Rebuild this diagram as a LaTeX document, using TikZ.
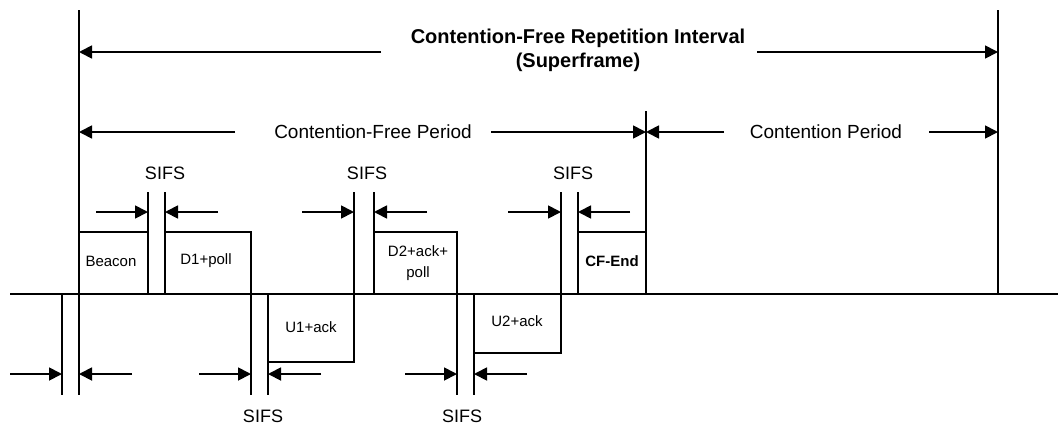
\documentclass[tikz,border=0pt]{standalone}
\usepackage{fontspec}
\setmainfont{Liberation Sans}
\usetikzlibrary{arrows.meta}
\tikzset{
  ln/.style={line width=1.8pt, line join=miter},
  arr/.style={line width=1.8pt, -{Triangle[length=13pt,width=13pt]}},
  big/.style={font=\fontsize{19}{23}\selectfont, inner sep=0pt},
  bigb/.style={font=\fontsize{20}{24}\selectfont\bfseries, inner sep=0pt, align=center},
  sifs/.style={font=\fontsize{18}{21}\selectfont, inner sep=0pt},
  boxlbl/.style={font=\fontsize{15}{22}\selectfont, inner sep=0pt, align=center},
}
\begin{document}
\begin{tikzpicture}[x=1pt,y=-1pt]
\useasboundingbox (0,0) rectangle (1058,426);
% named coordinates
\coordinate (hl) at (10,294); \coordinate (hr) at (1058,294);
\coordinate (L0t) at (79,10); \coordinate (L0b) at (79,395);
\coordinate (R0t) at (998,10); \coordinate (R0b) at (998,294);
\coordinate (CFt) at (646,111); \coordinate (CFb) at (646,294);
% timeline
\draw[ln] (hl) -- (hr);
\draw[ln] (L0t) -- (L0b);
\draw[ln] (R0t) -- (R0b);
\draw[ln] (CFt) -- (CFb);
\draw[ln] (62,294) -- (62,395);
% Beacon
\draw[ln] (79,232) -- (148,232);
\draw[ln] (148,192) -- (148,294);
% D1+poll
\draw[ln] (165,192) -- (165,294);
\draw[ln] (165,232) -- (251,232) -- (251,395);
% U1+ack
\draw[ln] (268,294) -- (268,395);
\draw[ln] (268,362) -- (354,362) -- (354,192);
% D2+ack+poll
\draw[ln] (374,192) -- (374,294);
\draw[ln] (374,232) -- (457,232) -- (457,395);
% U2+ack
\draw[ln] (474,294) -- (474,395);
\draw[ln] (474,353) -- (561,353) -- (561,192);
% CF-End
\draw[ln] (578,192) -- (578,294);
\draw[ln] (578,232) -- (646,232);
% box labels
\node[boxlbl] (beacon) at (111,261) {Beacon};
\node[boxlbl] (d1) at (206,261) {D1+poll};
\node[boxlbl] (u1) at (311,327) {U1+ack};
\node[boxlbl, font=\fontsize{15}{21}\selectfont] (d2) at (418,263) {D2+ack+\\poll};
\node[boxlbl] (u2) at (517,321) {U2+ack};
\node[boxlbl, font=\fontsize{15}{22}\selectfont\bfseries] (cfend) at (612,261) {CF-End};
% top labels
\node[bigb] (title) at (578,50) {Contention-Free Repetition Interval\\(Superframe)};
\node[big] (cfp) at (373,132) {Contention-Free Period};
\node[big] (cp) at (826,132) {Contention Period};
% top arrows
\draw[arr] (381,52) -- (79,52);
\draw[arr] (757,52) -- (998,52);
\draw[arr] (235,132) -- (79,132);
\draw[arr] (491,132) -- (646,132);
\draw[arr] (724,132) -- (646,132);
\draw[arr] (929,132) -- (998,132);
% upper SIFS
\draw[arr] (96,212) -- (148,212);
\draw[arr] (218,212) -- (165,212);
\draw[arr] (302,212) -- (354,212);
\draw[arr] (427,212) -- (374,212);
\draw[arr] (508,212) -- (561,212);
\draw[arr] (630,212) -- (578,212);
\node[sifs] (s1) at (165,173) {SIFS};
\node[sifs] (s2) at (367,173) {SIFS};
\node[sifs] (s3) at (573,173) {SIFS};
% lower SIFS
\draw[arr] (10,374) -- (62,374);
\draw[arr] (132,374) -- (79,374);
\draw[arr] (199,374) -- (251,374);
\draw[arr] (321,374) -- (268,374);
\draw[arr] (405,374) -- (457,374);
\draw[arr] (527,374) -- (474,374);
\node[sifs] (s4) at (263,416) {SIFS};
\node[sifs] (s5) at (462,416) {SIFS};
\end{tikzpicture}
\end{document}
